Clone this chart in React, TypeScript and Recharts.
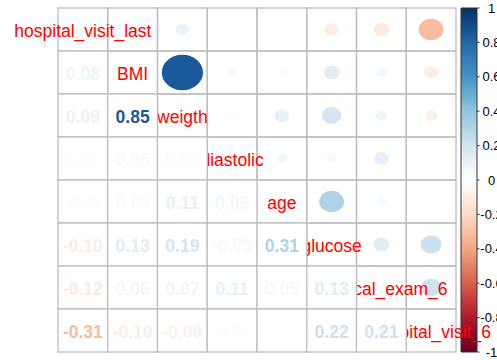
import { ReferenceArea, Scatter, ScatterChart, XAxis, YAxis } from "recharts";

const variables = [
  "hospital_visit_last",
  "BMI",
  "weigth",
  "diastolic",
  "age",
  "glucose",
  "medical_exam_6",
  "hospital_visit_6",
];

// lower triangle of the correlation matrix, row by row
const lowerRows: number[][] = [
  [],
  [0.08],
  [0.09, 0.85],
  [0.01, 0.05, 0.02],
  [-0.01, 0.03, 0.11, 0.06],
  [-0.1, 0.13, 0.19, -0.05, 0.31],
  [-0.12, 0.06, 0.07, 0.11, 0.05, 0.13],
  [-0.31, -0.1, -0.08, -0.01, 0.0, 0.22, 0.21],
];

const legendTicks = [1, 0.8, 0.6, 0.4, 0.2, 0, -0.2, -0.4, -0.6, -0.8, -1];

const rdBu = [
  "#67001F", "#B2182B", "#D6604D", "#F4A582", "#FDDBC7", "#FFFFFF",
  "#D1E5F0", "#92C5DE", "#4393C3", "#2166AC", "#053061",
];

const W = 497;
const H = 360;
const margin = { top: 8, left: 58, right: 41, bottom: 8 };
const cellW = (W - margin.left - margin.right) / variables.length;
const cellH = (H - margin.top - margin.bottom) / variables.length;
const gridColor = "#BEBEBE";

function hexToRgb(h: string) {
  const n = parseInt(h.slice(1), 16);
  return [(n >> 16) & 255, (n >> 8) & 255, n & 255];
}

function corrColor(r: number) {
  const t = ((r + 1) / 2) * (rdBu.length - 1);
  const i = Math.min(Math.floor(t), rdBu.length - 2);
  const f = t - i;
  const a = hexToRgb(rdBu[i]);
  const b = hexToRgb(rdBu[i + 1]);
  const c = a.map((v, k) => Math.round(v + (b[k] - v) * f));
  return `rgb(${c[0]},${c[1]},${c[2]})`;
}

const corrAt = (i: number, j: number) =>
  i === j ? 1 : j < i ? lowerRows[i][j] : lowerRows[j][i];

const cells = variables.flatMap((_, i) =>
  variables.map((__, j) => ({ x: j + 1, y: i + 1, r: corrAt(i, j), name: variables[i], i, j }))
);
const upperCells = cells.filter((c) => c.j >= c.i);
const diagCells = cells.filter((c) => c.j === c.i);
const lowerCells = cells.filter((c) => c.j < c.i);
const legendData = legendTicks.map((v) => ({ x: variables.length + 0.5, v }));

const font = "'Liberation Sans', Arial, Helvetica, sans-serif";

const cellRect = (p: any, fill: string) => (
  <rect
    x={p.cx - cellW / 2}
    y={p.cy - cellH / 2}
    width={cellW}
    height={cellH}
    fill={fill}
    stroke={gridColor}
    strokeWidth={1.3}
  />
);

export default function App() {
  return (
    <div style={{ position: "absolute", left: 0, top: 0, background: "#fff" }}>
      <ScatterChart width={W} height={H} margin={margin}>
        <defs>
          <linearGradient id="cbar" x1="0" y1="0" x2="0" y2="1">
            {rdBu
              .slice()
              .reverse()
              .map((c, k) => (
                <stop key={k} offset={k / (rdBu.length - 1)} stopColor={c} />
              ))}
          </linearGradient>
        </defs>
        <XAxis type="number" dataKey="x" domain={[0.5, variables.length + 0.5]} hide />
        <YAxis type="number" dataKey="y" domain={[0.5, variables.length + 0.5]} reversed hide />
        <YAxis yAxisId="cb" type="number" dataKey="v" domain={[-1, 1]} orientation="right" hide />
        <ReferenceArea
          yAxisId="cb"
          x1={variables.length + 0.5 + 5 / cellW}
          x2={variables.length + 0.5 + 21 / cellW}
          y1={-1}
          y2={1}
          ifOverflow="visible"
          fill="url(#cbar)"
          fillOpacity={1}
          stroke="#333"
          strokeWidth={1}
        />
        <Scatter
          data={upperCells}
          isAnimationActive={false}
          shape={(p: any) => {
            const s = p.payload.i === p.payload.j ? 0 : Math.sqrt(Math.abs(p.payload.r)) * 0.45;
            return (
              <g>
                {cellRect(p, "none")}
                {s > 0 && (
                  <ellipse cx={p.cx} cy={p.cy} rx={s * cellW} ry={s * cellH} fill={corrColor(p.payload.r)} />
                )}
              </g>
            );
          }}
        />
        <Scatter
          data={diagCells}
          isAnimationActive={false}
          shape={(p: any) => (
            <text
              x={p.cx}
              y={p.cy}
              dy="0.42em"
              textAnchor="middle"
              fill="#FF0000"
              fontSize={17.5}
              fontFamily={font}
            >
              {p.payload.name}
            </text>
          )}
        />
        <Scatter
          data={lowerCells}
          isAnimationActive={false}
          shape={(p: any) => (
            <g>
              {cellRect(p, "#fff")}
              <text
                x={p.cx}
                y={p.cy}
                dy="0.42em"
                textAnchor="middle"
                fill={corrColor(p.payload.r)}
                fontSize={17.5}
                fontWeight="bold"
                fontFamily={font}
              >
                {p.payload.r.toFixed(2)}
              </text>
            </g>
          )}
        />
        <Scatter
          yAxisId="cb"
          data={legendData}
          isAnimationActive={false}
          shape={(p: any) => (
            <g>
              <line x1={p.cx + 21} x2={p.cx + 23.5} y1={p.cy} y2={p.cy} stroke="#333" strokeWidth={1} />
              <text
                x={p.cx + 35.5}
                y={p.cy}
                dy="0.36em"
                textAnchor="middle"
                fill="#000"
                fontSize={13}
                fontFamily={font}
              >
                {p.payload.v}
              </text>
            </g>
          )}
        />
      </ScatterChart>
    </div>
  );
}
